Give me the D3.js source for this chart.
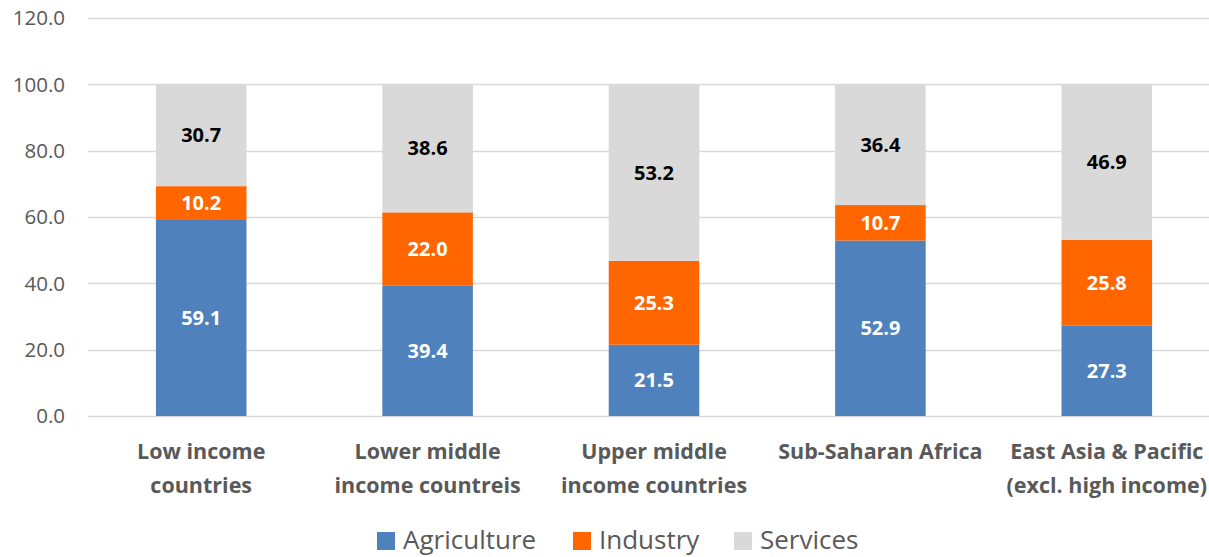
<!DOCTYPE html>
<html>
<head>
<meta charset="utf-8">
<script src="https://cdn.jsdelivr.net/npm/d3@7"></script>
<style>
  body { margin: 0; background: #fff; }
  svg { display: block; font-family: "Open Sans", Lato, sans-serif; }
</style>
</head>
<body>
<div id="chart"></div>
<script>
// data
const categories = [
  ['Low income', 'countries'],
  ['Lower middle', 'income countreis'],
  ['Upper middle', 'income countries'],
  ['Sub-Saharan Africa'],
  ['East Asia & Pacific', '(excl. high income)']
];
const agriculture = [59.1, 39.4, 21.5, 52.9, 27.3];
const industry = [10.2, 22.0, 25.3, 10.7, 25.8];
const services = [30.7, 38.6, 53.2, 36.4, 46.9];
const seriesNames = ['Agriculture', 'Industry', 'Services'];
const seriesColors = ['#4f81bd', '#ff6600', '#d9d9d9'];
const labelColors = ['#fff', '#fff', '#000'];
const yTicks = [0, 20, 40, 60, 80, 100, 120];

const width = 1209;
const height = 557;
const margin = { left: 88, top: 18, right: -11, bottom: 141 };

const svg = d3.select('#chart').append('svg')
  .attr('width', width)
  .attr('height', height);

const x = d3.scaleBand()
  .domain(d3.range(categories.length))
  .range([margin.left, width - margin.right])
  .paddingInner(0.6)
  .paddingOuter(0.3);

const y = d3.scaleLinear()
  .domain([0, 120])
  .range([height - margin.bottom, margin.top]);

// gridlines + y labels
const grid = svg.append('g');
grid.selectAll('line')
  .data(yTicks).enter()
  .append('line')
  .attr('x1', margin.left)
  .attr('x2', width - margin.right)
  .attr('y1', d => Math.round(y(d)) + 0.5)
  .attr('y2', d => Math.round(y(d)) + 0.5)
  .attr('stroke', '#d9d9d9')
  .attr('stroke-width', 1.5);

grid.selectAll('text')
  .data(yTicks).enter()
  .append('text')
  .attr('x', 65)
  .attr('y', d => y(d))
  .attr('dy', '0.35em')
  .attr('text-anchor', 'end')
  .attr('fill', '#595959')
  .style('font-size', '20.5px')
  .text(d => d.toFixed(1));

// stacked bars
const rows = categories.map((c, i) => ({
  i, Agriculture: agriculture[i], Industry: industry[i], Services: services[i]
}));
const stacked = d3.stack().keys(seriesNames)(rows);

const layers = svg.append('g').selectAll('g')
  .data(stacked).enter()
  .append('g')
  .attr('fill', (d, k) => seriesColors[k]);

layers.selectAll('rect')
  .data(d => d).enter()
  .append('rect')
  .attr('x', d => x(d.data.i))
  .attr('width', x.bandwidth())
  .attr('y', d => y(d[1]))
  .attr('height', d => y(d[0]) - y(d[1]));

layers.selectAll('text')
  .data((d, k) => d.map(p => ({ p, k }))).enter()
  .append('text')
  .attr('x', d => x(d.p.data.i) + x.bandwidth() / 2)
  .attr('y', d => y((d.p[0] + d.p[1]) / 2))
  .attr('dy', '0.35em')
  .attr('text-anchor', 'middle')
  .attr('fill', d => labelColors[d.k])
  .style('font-size', '20px')
  .style('font-weight', 'bold')
  .text(d => (d.p[1] - d.p[0]).toFixed(1));

// category labels
const cats = svg.append('g').selectAll('text')
  .data(categories).enter()
  .append('text')
  .attr('text-anchor', 'middle')
  .attr('fill', '#595959')
  .style('font-size', '21.5px')
  .style('font-weight', 'bold')
  .attr('transform', (d, i) => `translate(${x(i) + x.bandwidth() / 2},459)`);
cats.selectAll('tspan')
  .data(d => d).enter()
  .append('tspan')
  .attr('x', 0)
  .attr('dy', (d, j) => (j === 0 ? 0 : 34))
  .text(d => d);

// legend
const legendX = [377, 573, 734];
const legend = svg.append('g').selectAll('g')
  .data(seriesNames).enter()
  .append('g')
  .attr('transform', (d, k) => `translate(${legendX[k]},532)`);
legend.append('rect')
  .attr('width', 18)
  .attr('height', 18)
  .attr('fill', (d, k) => seriesColors[k]);
legend.append('text')
  .attr('x', 26)
  .attr('y', 7.5)
  .attr('dy', '0.35em')
  .attr('fill', '#595959')
  .style('font-size', '26px')
  .text(d => d);
</script>
</body>
</html>
